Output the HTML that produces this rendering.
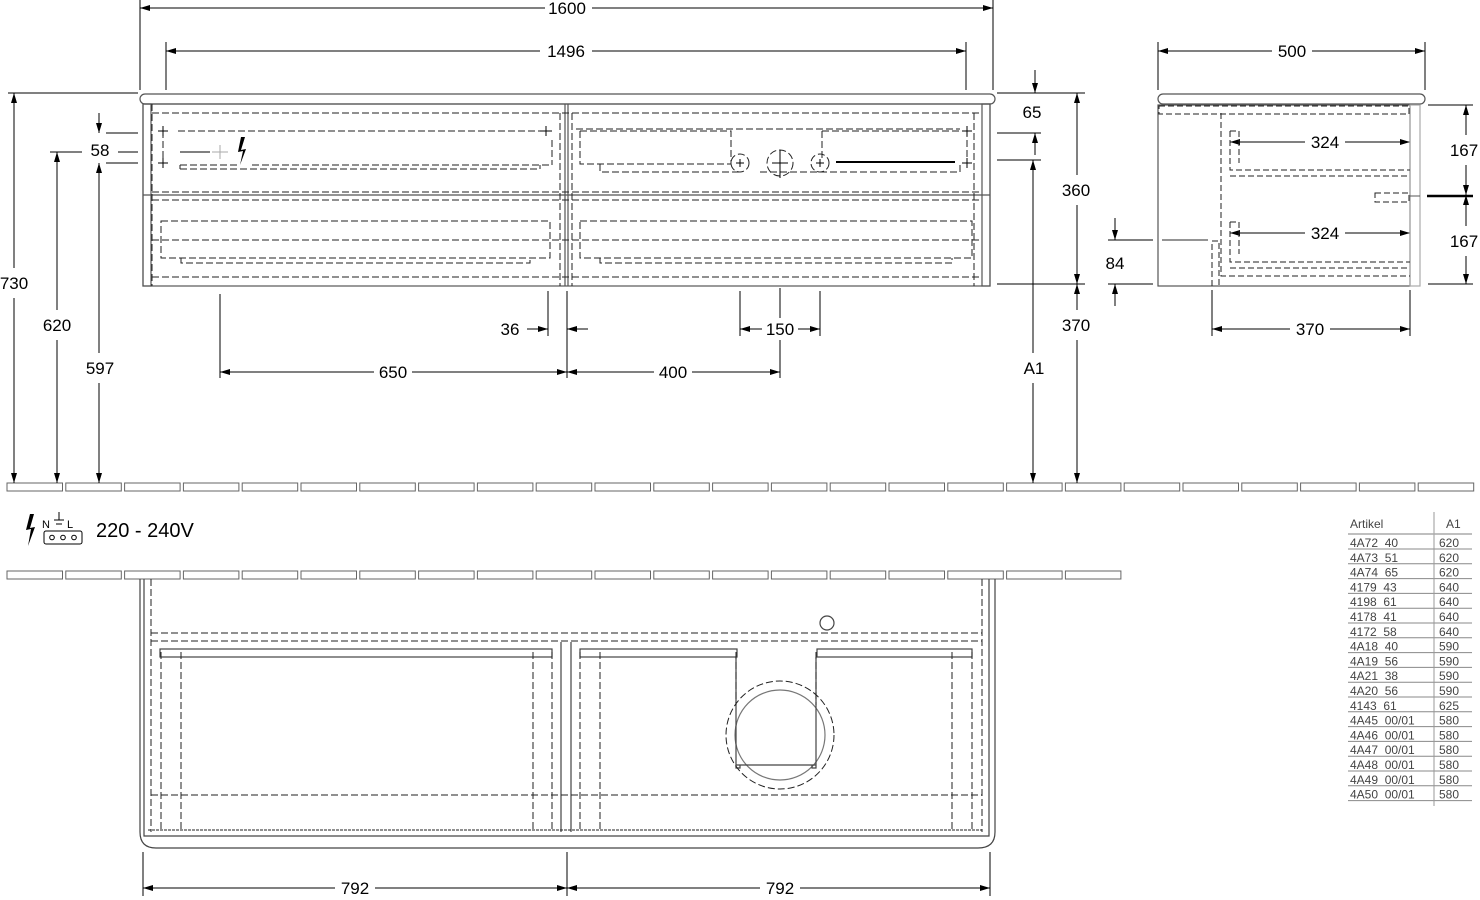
<!DOCTYPE html>
<html><head><meta charset="utf-8"><style>
html,body{margin:0;padding:0;background:#fff;width:1480px;height:900px;overflow:hidden}
svg{display:block}
text{font-family:"Liberation Sans",sans-serif;font-size:17px;fill:#000}
.t{font-family:"Liberation Sans",sans-serif;font-size:12px;fill:#444}
</style></head><body>
<svg id="s" width="1480" height="900" viewBox="0 0 1480 900" xmlns="http://www.w3.org/2000/svg">
<defs>
<marker id="a" viewBox="0 0 10 6" refX="10" refY="3" markerWidth="10" markerHeight="6" orient="auto-start-reverse"><path d="M0,0L10,3L0,6z" fill="#000"/></marker>
</defs>
<g id="strips" fill="#fff" stroke="#666" stroke-width="1"></g>

<!-- FRONT VIEW -->
<g fill="none" stroke="#555" stroke-width="1.2">
<rect x="140" y="94" width="855" height="10" rx="5"/>
<rect x="143" y="104" width="847" height="182"/>
<rect x="143" y="104" width="8" height="182"/>
<rect x="982" y="104" width="8" height="182"/>
<line x1="565" y1="104" x2="565" y2="286"/><line x1="568" y1="104" x2="568" y2="286"/>
<line x1="143" y1="195" x2="990" y2="195"/>
</g>
<g fill="none" stroke="#222" stroke-width="1" stroke-dasharray="7,3">
<line x1="152" y1="113" x2="982" y2="113"/>
<line x1="152" y1="192" x2="982" y2="192"/><line x1="152" y1="200" x2="982" y2="200"/>
<line x1="152" y1="240" x2="982" y2="240"/>
<line x1="152" y1="277" x2="982" y2="277"/>
<line x1="152" y1="104" x2="152" y2="286"/><line x1="560" y1="113" x2="560" y2="286"/><line x1="572" y1="113" x2="572" y2="286"/><line x1="974" y1="113" x2="974" y2="286"/>
<line x1="178" y1="131" x2="540" y2="131"/>
<line x1="163" y1="131" x2="163" y2="165"/><line x1="552" y1="140" x2="552" y2="165"/>
<path d="M180 165H240M252 165H552M180 165v4h0M180 169H540V165"/>
<line x1="576" y1="129" x2="960" y2="129"/>
<path d="M580 131H731V164M580 131V164H731M600 164V172H740M760 172H960V164"/>
<path d="M822 131H962"/><line x1="822" y1="131" x2="822" y2="160"/>
<line x1="967" y1="130" x2="967" y2="165"/>
<path d="M161 221H550V258H161Z M181 258V263H530V258"/>
<path d="M580 221H972V258H580Z M600 258V263H952V258"/>
<circle cx="740" cy="163" r="9"/><circle cx="780" cy="163" r="13"/><circle cx="820" cy="163" r="9"/>
</g>
<g stroke="#000" stroke-width="1">
<line x1="736" y1="163" x2="744" y2="163"/><line x1="740" y1="159" x2="740" y2="167"/>
<line x1="772" y1="163" x2="788" y2="163"/><line x1="780" y1="150" x2="780" y2="178"/>
<line x1="816" y1="163" x2="824" y2="163"/><line x1="820" y1="159" x2="820" y2="167"/>
<line x1="836" y1="162" x2="955" y2="162" stroke-width="2"/>
<line x1="180" y1="152" x2="210" y2="152"/>
<line x1="158" y1="131" x2="168" y2="131"/><line x1="163" y1="126" x2="163" y2="136"/>
<line x1="158" y1="163" x2="168" y2="163"/><line x1="163" y1="158" x2="163" y2="168"/>
<line x1="540" y1="131" x2="552" y2="131"/><line x1="546" y1="126" x2="546" y2="136"/>
<line x1="962" y1="131" x2="972" y2="131"/><line x1="967" y1="126" x2="967" y2="136"/>
<line x1="962" y1="163" x2="972" y2="163"/><line x1="967" y1="158" x2="967" y2="168"/>
</g>
<line x1="212" y1="152" x2="228" y2="152" stroke="#aaa"/><line x1="220" y1="145" x2="220" y2="159" stroke="#aaa"/>
<path d="M241 137L238 152L243 151L240 165L246 149L241 150L245 137Z" fill="#000"/>

<g stroke="#000" stroke-width="1" fill="none">
<line x1="140" y1="0" x2="140" y2="90"/><line x1="993" y1="0" x2="993" y2="90"/>
<line x1="140" y1="8" x2="545" y2="8" marker-start="url(#a)"/><line x1="592" y1="8" x2="993" y2="8" marker-end="url(#a)"/>
<line x1="166" y1="42" x2="166" y2="90"/><line x1="966" y1="42" x2="966" y2="90"/>
<line x1="166" y1="51" x2="540" y2="51" marker-start="url(#a)"/><line x1="592" y1="51" x2="966" y2="51" marker-end="url(#a)"/>
<line x1="8" y1="93" x2="138" y2="93"/>
<line x1="14" y1="93" x2="14" y2="268" marker-start="url(#a)"/><line x1="14" y1="298" x2="14" y2="483" marker-end="url(#a)"/>
<line x1="50" y1="152" x2="82" y2="152"/><line x1="118" y1="152" x2="138" y2="152"/>
<line x1="57" y1="152" x2="57" y2="310" marker-start="url(#a)"/><line x1="57" y1="340" x2="57" y2="483" marker-end="url(#a)"/>
<line x1="106" y1="133" x2="138" y2="133"/><line x1="106" y1="163" x2="138" y2="163"/>
<line x1="99" y1="113" x2="99" y2="133" marker-end="url(#a)"/>
<line x1="99" y1="163" x2="99" y2="353" marker-start="url(#a)"/><line x1="99" y1="383" x2="99" y2="483" marker-end="url(#a)"/>
<line x1="1035" y1="70" x2="1035" y2="93" marker-end="url(#a)"/>
<line x1="1035" y1="155" x2="1035" y2="133" marker-end="url(#a)"/>
<line x1="997" y1="93" x2="1085" y2="93"/><line x1="997" y1="133" x2="1041" y2="133"/><line x1="997" y1="160" x2="1041" y2="160"/>
<line x1="997" y1="284" x2="1085" y2="284"/>
<line x1="1033" y1="160" x2="1033" y2="353" marker-start="url(#a)"/><line x1="1033" y1="383" x2="1033" y2="483" marker-end="url(#a)"/>
<line x1="1077" y1="93" x2="1077" y2="175" marker-start="url(#a)"/><line x1="1077" y1="205" x2="1077" y2="284" marker-end="url(#a)"/>
<line x1="1077" y1="284" x2="1077" y2="310" marker-start="url(#a)"/><line x1="1077" y1="340" x2="1077" y2="483" marker-end="url(#a)"/>
<line x1="220" y1="294" x2="220" y2="378"/><line x1="548" y1="291" x2="548" y2="336"/><line x1="567" y1="291" x2="567" y2="378"/>
<line x1="740" y1="291" x2="740" y2="336"/><line x1="780" y1="288" x2="780" y2="318"/><line x1="780" y1="340" x2="780" y2="378"/><line x1="820" y1="291" x2="820" y2="336"/>
<line x1="527" y1="329" x2="548" y2="329" marker-end="url(#a)"/><line x1="588" y1="329" x2="567" y2="329" marker-end="url(#a)"/>
<line x1="740" y1="329" x2="762" y2="329" marker-start="url(#a)"/><line x1="798" y1="329" x2="820" y2="329" marker-end="url(#a)"/>
<line x1="220" y1="372" x2="374" y2="372" marker-start="url(#a)"/><line x1="412" y1="372" x2="567" y2="372" marker-end="url(#a)"/>
<line x1="567" y1="372" x2="654" y2="372" marker-start="url(#a)"/><line x1="692" y1="372" x2="780" y2="372" marker-end="url(#a)"/>
<line x1="1158" y1="42" x2="1158" y2="90"/><line x1="1425" y1="42" x2="1425" y2="90"/>
<line x1="1158" y1="51" x2="1272" y2="51" marker-start="url(#a)"/><line x1="1312" y1="51" x2="1425" y2="51" marker-end="url(#a)"/>
<line x1="1428" y1="105" x2="1473" y2="105"/><line x1="1428" y1="284" x2="1473" y2="284"/>
<line x1="1466" y1="105" x2="1466" y2="135" marker-start="url(#a)"/><line x1="1466" y1="165" x2="1466" y2="195" marker-end="url(#a)"/>
<line x1="1466" y1="195" x2="1466" y2="226" marker-start="url(#a)"/><line x1="1466" y1="256" x2="1466" y2="284" marker-end="url(#a)"/>
<line x1="1427" y1="196" x2="1473" y2="196" stroke-width="2.5"/>
<line x1="1108" y1="240" x2="1153" y2="240"/><line x1="1108" y1="284" x2="1153" y2="284"/>
<line x1="1115" y1="218" x2="1115" y2="240" marker-end="url(#a)"/><line x1="1115" y1="306" x2="1115" y2="284" marker-end="url(#a)"/>
<line x1="1230" y1="142" x2="1305" y2="142" marker-start="url(#a)"/><line x1="1345" y1="142" x2="1410" y2="142" marker-end="url(#a)"/>
<line x1="1230" y1="233" x2="1305" y2="233" marker-start="url(#a)"/><line x1="1345" y1="233" x2="1410" y2="233" marker-end="url(#a)"/>
<line x1="1212" y1="290" x2="1212" y2="336"/><line x1="1410" y1="290" x2="1410" y2="336"/>
<line x1="1212" y1="329" x2="1290" y2="329" marker-start="url(#a)"/><line x1="1330" y1="329" x2="1410" y2="329" marker-end="url(#a)"/>
<line x1="143" y1="852" x2="143" y2="896"/><line x1="990" y1="852" x2="990" y2="896"/><line x1="567" y1="852" x2="567" y2="896"/>
<line x1="143" y1="888" x2="335" y2="888" marker-start="url(#a)"/><line x1="375" y1="888" x2="567" y2="888" marker-end="url(#a)"/>
<line x1="567" y1="888" x2="760" y2="888" marker-start="url(#a)"/><line x1="800" y1="888" x2="990" y2="888" marker-end="url(#a)"/>
</g>
<g text-anchor="middle">
<text x="567" y="14">1600</text><text x="566" y="57">1496</text>
<text x="14" y="289">730</text><text x="57" y="331">620</text><text x="100" y="156">58</text><text x="100" y="374">597</text>
<text x="1032" y="118">65</text><text x="1076" y="196">360</text><text x="1076" y="331">370</text><text x="1034" y="374">A1</text>
<text x="510" y="335">36</text><text x="780" y="335">150</text><text x="393" y="378">650</text><text x="673" y="378">400</text>
<text x="1292" y="57">500</text><text x="1325" y="148">324</text><text x="1325" y="239">324</text>
<text x="1464" y="156">167</text><text x="1464" y="247">167</text><text x="1115" y="269">84</text><text x="1310" y="335">370</text>
<text x="355" y="894">792</text><text x="780" y="894">792</text>
</g>

<g fill="none" stroke="#555" stroke-width="1.2">
<rect x="1158" y="94" width="267" height="10" rx="5"/>
<rect x="1158" y="105" width="252" height="181"/>
<rect x="1410" y="105" width="10" height="181" stroke="#aaa"/>
<line x1="1162" y1="240" x2="1208" y2="240"/>
</g>
<g fill="none" stroke="#222" stroke-dasharray="6,3">
<rect x="1159" y="106" width="250" height="8"/>
<path d="M1221 113V276H1410"/><path d="M1212 286V241H1219V286"/>
<path d="M1230 131H1239V163M1230 131V170H1410M1230 176H1410"/>
<path d="M1230 222H1239V254M1230 222V262H1410M1230 268H1410"/>
<rect x="1375" y="193" width="34" height="9"/>
</g>
<line x1="1410" y1="196" x2="1420" y2="196" stroke="#555"/>

<path d="M30 514L26 530L31 529L28 546L35 527L30 528L34 514Z" fill="#000"/>
<text x="42" y="528" style="font-size:11px">N</text><text x="67" y="528" style="font-size:11px">L</text>
<line x1="54" y1="520" x2="64" y2="520" stroke="#000"/><line x1="56" y1="524" x2="62" y2="524" stroke="#000"/><line x1="59" y1="512" x2="59" y2="520" stroke="#000"/>
<rect x="44" y="531" width="38" height="13" rx="2" fill="none" stroke="#000"/>
<circle cx="52" cy="537.5" r="2.3" fill="none" stroke="#000"/><circle cx="63" cy="537.5" r="2.3" fill="none" stroke="#000"/><circle cx="74" cy="537.5" r="2.3" fill="none" stroke="#000"/>
<text x="96" y="537" style="font-size:20px">220 - 240V</text>

<g fill="none" stroke="#444" stroke-width="1.2">
<path d="M140 579V832Q140 848 156 848H978Q995 848 995 832V579"/>
<path d="M144 579V836H989V579"/>
<line x1="561" y1="642" x2="561" y2="832"/><line x1="571" y1="642" x2="571" y2="832"/>
<rect x="160" y="649" width="392" height="8"/><rect x="580" y="649" width="157" height="8"/><rect x="817" y="649" width="155" height="8"/>
<circle cx="827" cy="623" r="7"/>
<circle cx="780" cy="735" r="45" stroke="#777"/>
<path d="M736 657V765H816V657M736 765V768h4v-3M816 765V768h-4v-3"/>
</g>
<g fill="none" stroke="#222" stroke-dasharray="7,3">
<line x1="151" y1="579" x2="151" y2="832"/><line x1="982" y1="579" x2="982" y2="832"/>
<line x1="151" y1="633" x2="982" y2="633"/><line x1="151" y1="641" x2="982" y2="641"/>
<line x1="151" y1="795" x2="982" y2="795"/>
<line x1="161" y1="652" x2="161" y2="830"/><line x1="181" y1="652" x2="181" y2="830"/><line x1="533" y1="652" x2="533" y2="830"/><line x1="552" y1="652" x2="552" y2="830"/>
<line x1="580" y1="652" x2="580" y2="830"/><line x1="600" y1="652" x2="600" y2="830"/><line x1="952" y1="652" x2="952" y2="830"/><line x1="972" y1="652" x2="972" y2="830"/>
<line x1="736" y1="652" x2="736" y2="705"/><line x1="816" y1="652" x2="816" y2="705"/>
<circle cx="780" cy="735" r="54"/>
<line x1="148" y1="830" x2="982" y2="830" stroke-dasharray="3,1"/>
</g>

<g id="tbl"></g>
<line x1="1434" y1="512" x2="1434" y2="806" stroke="#999"/>
<text class="t" x="1350" y="528">Artikel</text><text class="t" x="1446" y="528">A1</text>
<line x1="1348" y1="534" x2="1472" y2="534" stroke="#aaa" stroke-width="1.5"/>
</svg>
<script>
var ns="http://www.w3.org/2000/svg",g=document.getElementById("strips");
function r(x,y,w,h){var e=document.createElementNS(ns,"rect");e.setAttribute("x",x);e.setAttribute("y",y);e.setAttribute("width",w);e.setAttribute("height",h);g.appendChild(e);}
for(var i=0;i<25;i++){var x=7+i*58.8;r(x,483,55.5,8);}
for(var i=0;i<19;i++){var x=7+i*58.8;r(x,571,55.5,8);}
var rows=[["4A72  40","620"],["4A73  51","620"],["4A74  65","620"],["4179  43","640"],["4198  61","640"],["4178  41","640"],["4172  58","640"],["4A18  40","590"],["4A19  56","590"],["4A21  38","590"],["4A20  56","590"],["4143  61","625"],["4A45  00/01","580"],["4A46  00/01","580"],["4A47  00/01","580"],["4A48  00/01","580"],["4A49  00/01","580"],["4A50  00/01","580"]];
var t=document.getElementById("tbl");
rows.forEach(function(rw,i){var y=547+i*14.8;
var a=document.createElementNS(ns,"text");a.setAttribute("class","t");a.setAttribute("x",1350);a.setAttribute("y",y);a.style.whiteSpace="pre";a.textContent=rw[0];t.appendChild(a);
var b=document.createElementNS(ns,"text");b.setAttribute("class","t");b.setAttribute("x",1439);b.setAttribute("y",y);b.textContent=rw[1];t.appendChild(b);
var l=document.createElementNS(ns,"line");l.setAttribute("x1",1348);l.setAttribute("x2",1472);l.setAttribute("y1",y+2);l.setAttribute("y2",y+2);l.setAttribute("stroke","#888");t.appendChild(l);});
</script>
</body></html>
